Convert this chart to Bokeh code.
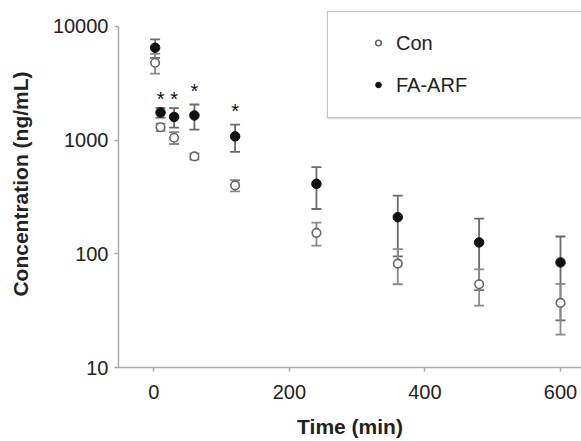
from bokeh.plotting import figure
from bokeh.models import (ColumnDataSource, Whisker, TeeHead, FixedTicker,
                          PrintfTickFormatter, Legend, LegendItem, Range1d,
                          BoxAnnotation)
from bokeh.core.properties import value
from bokeh.embed import file_html
from bokeh.resources import INLINE

# ---- data ----
time_min = [2, 10, 30, 60, 120, 240, 360, 480, 600]
con_mean = [4800, 1300, 1050, 720, 400, 153, 82, 54, 37]
con_sd = [950, 100, 125, 45, 45, 35, 28, 19, 17.5]
fa_mean = [6500, 1750, 1600, 1650, 1080, 413, 210, 126, 84]
fa_sd = [1200, 170, 310, 410, 290, 165, 115, 78, 58]
star_time = [10, 30, 60, 120]
star_y = [2300, 2300, 2680, 1800]
y_ticks = [10, 100, 1000, 10000]
x_ticks = [0, 200, 400, 600]

con_src = ColumnDataSource(dict(
    t=time_min, m=con_mean,
    lo=[m - s for m, s in zip(con_mean, con_sd)],
    hi=[m + s for m, s in zip(con_mean, con_sd)]))
fa_src = ColumnDataSource(dict(
    t=time_min, m=fa_mean,
    lo=[m - s for m, s in zip(fa_mean, fa_sd)],
    hi=[m + s for m, s in zip(fa_mean, fa_sd)]))
star_src = ColumnDataSource(dict(t=star_time, y=star_y, txt=["*"] * len(star_time)))

p = figure(width=581, height=441, y_axis_type="log",
           x_range=Range1d(-52, 631), y_range=Range1d(10, 16930),
           output_backend="svg", toolbar_location=None,
           min_border_left=118, min_border_right=0,
           min_border_top=0, min_border_bottom=74)
p.outline_line_color = None
p.xgrid.grid_line_color = None
p.ygrid.grid_line_color = None

FONT = "Liberation Sans"

# error bars
for src, col in ((fa_src, "#6a6a6a"), (con_src, "#8a8a8a")):
    w = Whisker(base="t", lower="lo", upper="hi", source=src, dimension="height",
                line_color=col, line_width=1.8,
                upper_head=TeeHead(size=10, line_color=col, line_width=1.8),
                lower_head=TeeHead(size=10, line_color=col, line_width=1.8),
                level="underlay")
    p.add_layout(w)

con_r = p.scatter("t", "m", source=con_src, size=8.5, marker="circle",
                  fill_color="white", line_color="#666666", line_width=1.6)
fa_r = p.scatter("t", "m", source=fa_src, size=9.5, marker="circle",
                 fill_color="#111111", line_color="#111111", line_width=1)

p.text("t", "y", text="txt", source=star_src, text_font=value(FONT),
       text_font_size="20px", text_align="center", text_baseline="middle",
       text_color="#111111")

# axes
for ax in (p.xaxis[0], p.yaxis[0]):
    ax.axis_line_color = "#aaaaaa"
    ax.axis_line_width = 1.5
    ax.major_tick_line_color = "#aaaaaa"
    ax.major_tick_line_width = 1.5
    ax.major_tick_out = 4
    ax.major_tick_in = 0
    ax.minor_tick_line_color = None
    ax.major_label_text_font = FONT
    ax.major_label_text_font_size = "20px"
    ax.major_label_text_color = "#222222"
    ax.axis_label_text_font = FONT
    ax.axis_label_text_font_size = "21px"
    ax.axis_label_text_font_style = "bold"
    ax.axis_label_text_color = "#222222"

p.xaxis.ticker = FixedTicker(ticks=x_ticks)
p.yaxis.ticker = FixedTicker(ticks=y_ticks)
p.yaxis.bounds = (y_ticks[0], y_ticks[-1])
p.yaxis.formatter = PrintfTickFormatter(format="%d")
p.xaxis.axis_label = "Time (min)"
p.yaxis.axis_label = "Concentration (ng/mL)"
p.xaxis.major_label_standoff = 13
p.xaxis.axis_label_standoff = 13
p.yaxis.major_label_standoff = 6
p.yaxis.axis_label_standoff = 18

# legend box with labels (no glyphs) -- same settings that laid out correctly
legend_box = Legend(items=[LegendItem(label="Con", renderers=[]),
                           LegendItem(label="FA-ARF", renderers=[])],
                    location=(209, 249), padding=20, spacing=19,
                    glyph_width=20, glyph_height=21, label_height=21,
                    label_standoff=28, label_width=300, label_text_font=FONT,
                    label_text_font_size="20px", label_text_color="#222222",
                    border_line_color="#8a8a8a", border_line_width=1.5,
                    background_fill_color="white", background_fill_alpha=1)
p.add_layout(legend_box)
# legend glyphs
legend_glyphs = Legend(items=[LegendItem(label="", renderers=[con_r]),
                              LegendItem(label="", renderers=[fa_r])],
                       location=(253, 272), padding=0, spacing=21,
                       glyph_width=14, glyph_height=21, label_height=21,
                       label_standoff=0, label_width=0,
                       label_text_font_size="1px",
                       border_line_color=None, background_fill_alpha=0)
p.add_layout(legend_glyphs)

# hide the legend's right edge and let the frame run off the picture
cover = BoxAnnotation(left=540, right=640, top=13.5, bottom=116.5,
                      left_units="canvas", right_units="canvas",
                      top_units="canvas", bottom_units="canvas",
                      fill_color="white", fill_alpha=1, line_color=None,
                      level="overlay")
p.add_layout(cover)
frame_lines = BoxAnnotation(left=327, right=640, top=12, bottom=118,
                            left_units="canvas", right_units="canvas",
                            top_units="canvas", bottom_units="canvas",
                            fill_alpha=0, line_color="#8a8a8a", line_width=1.5,
                            level="overlay")
p.add_layout(frame_lines)

open("out.html", "w").write(file_html(p, INLINE))
